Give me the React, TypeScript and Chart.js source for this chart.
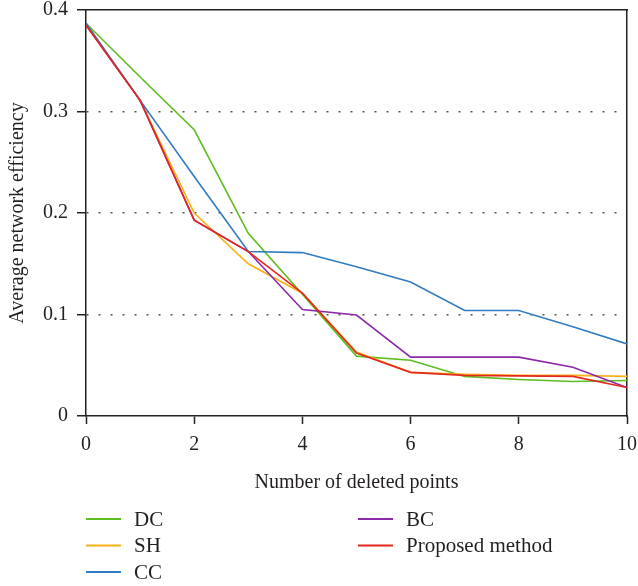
import React, { useEffect, useRef } from "react";
import { Chart, registerables } from "chart.js";

Chart.register(...registerables);

const xValues = [0, 1, 2, 3, 4, 5, 6, 7, 8, 9, 10];
const seriesNames = ["DC", "SH", "CC", "BC", "Proposed method"];
const dcValues = [0.387, 0.334, 0.282, 0.18, 0.12, 0.059, 0.055, 0.039, 0.036, 0.034, 0.035];
const shValues = [0.387, 0.311, 0.2, 0.15, 0.121, 0.063, 0.043, 0.041, 0.04, 0.04, 0.039];
const ccValues = [0.387, 0.311, 0.236, 0.162, 0.161, 0.147, 0.132, 0.104, 0.104, 0.088, 0.071];
const bcValues = [0.385, 0.311, 0.193, 0.162, 0.105, 0.0995, 0.058, 0.058, 0.058, 0.048, 0.028];
const proposedValues = [0.385, 0.311, 0.193, 0.162, 0.121, 0.062, 0.043, 0.04, 0.0395, 0.039, 0.028];
const seriesColors = ["#5dbd1e", "#f7b217", "#2f7cc2", "#8c28a9", "#e2281f"];
const drawOrder = [5, 4, 3, 2, 1];

const FONT_FAMILY = "'Liberation Serif', 'DejaVu Serif', serif";
const TEXT_COLOR = "#231f20";
const AXIS_COLOR = "#222222";

const legendPlugin = {
  id: "columnLegend",
  afterDraw(chart: any) {
    const ctx = chart.ctx;
    const ds = chart.data.datasets;
    ctx.save();
    ctx.font = `21px ${FONT_FAMILY}`;
    ctx.textBaseline = "middle";
    ctx.textAlign = "left";
    ds.forEach((d: any, i: number) => {
      const col = i < 3 ? 0 : 1;
      const row = i < 3 ? i : i - 3;
      const x0 = col === 0 ? 86 : 358;
      const y = 519 + row * 26.5;
      ctx.strokeStyle = d.borderColor;
      ctx.lineWidth = 2;
      ctx.beginPath();
      ctx.moveTo(x0, y);
      ctx.lineTo(x0 + 35, y);
      ctx.stroke();
      ctx.fillStyle = TEXT_COLOR;
      ctx.fillText(d.label, x0 + 48, y + 1);
    });
    ctx.restore();
  },
};

const zeroPad = (s: any) => {
  s.paddingTop = 0;
  s.paddingBottom = 0;
  s.paddingLeft = 0;
  s.paddingRight = 0;
};

export default function App() {
  const ref = useRef<HTMLCanvasElement | null>(null);

  useEffect(() => {
    if (!ref.current) return;
    const all = [dcValues, shValues, ccValues, bcValues, proposedValues];
    const datasets = all.map((vals, i) => ({
      label: seriesNames[i],
      data: vals.map((v, j) => ({ x: xValues[j], y: v })),
      borderColor: seriesColors[i],
      backgroundColor: seriesColors[i],
      borderWidth: 1.6,
      pointRadius: 0,
      tension: 0,
      fill: false,
      order: drawOrder[i],
    }));
    const font = { family: FONT_FAMILY, size: 20 };
    const chart = new Chart(ref.current, {
      type: "line",
      data: { datasets },
      plugins: [legendPlugin],
      options: {
        responsive: false,
        animation: false,
        layout: { padding: { left: 0, right: 11, top: 10, bottom: 90 } },
        plugins: {
          legend: { display: false },
          tooltip: { enabled: false },
        },
        scales: {
          x: {
            type: "linear",
            position: "bottom",
            min: 0,
            max: 10,
            ticks: { stepSize: 2, padding: 9, font, color: TEXT_COLOR, maxRotation: 0 },
            grid: {
              drawOnChartArea: false,
              tickLength: 8,
              tickColor: AXIS_COLOR,
              tickWidth: 1.5,
            },
            border: { color: AXIS_COLOR, width: 1.5 },
            title: {
              display: true,
              text: "Number of deleted points",
              font,
              color: TEXT_COLOR,
              padding: { top: 0, bottom: 1 },
            },
            afterFit: (s: any) => {
              s.height = 80;
              zeroPad(s);
            },
          },
          y: {
            type: "linear",
            position: "left",
            min: 0,
            max: 0.4,
            ticks: { stepSize: 0.1, padding: 9, font, color: TEXT_COLOR },
            grid: {
              color: (c: any) =>
                c.tick && c.tick.value > 0.001 && c.tick.value < 0.399 ? "#555555" : "rgba(0,0,0,0)",
              lineWidth: 1.5,
              tickLength: 9,
              tickColor: AXIS_COLOR,
              tickWidth: 1.5,
              tickBorderDash: [],
            },
            border: { color: AXIS_COLOR, width: 1.5, dash: [2, 10] },
            title: {
              display: true,
              text: "Average network efficiency",
              font,
              color: TEXT_COLOR,
              padding: { top: 6, bottom: 0 },
            },
            afterFit: (s: any) => {
              s.width = 86;
              zeroPad(s);
            },
          },
          x2: {
            type: "linear",
            position: "top",
            min: 0,
            max: 10,
            ticks: { display: false },
            grid: { display: false },
            border: { display: true, color: AXIS_COLOR, width: 1.5 },
            afterFit: (s: any) => {
              s.height = 0;
              zeroPad(s);
            },
          },
          y2: {
            type: "linear",
            position: "right",
            min: 0,
            max: 0.4,
            ticks: { display: false },
            grid: { display: false },
            border: { display: true, color: AXIS_COLOR, width: 1.5 },
            afterFit: (s: any) => {
              s.width = 0;
              zeroPad(s);
            },
          },
        },
      },
    } as any);
    return () => chart.destroy();
  }, []);

  return (
    <div style={{ position: "fixed", left: 0, top: 0, width: 638, height: 586, background: "#fff" }}>
      <canvas ref={ref} width={638} height={586} />
    </div>
  );
}
